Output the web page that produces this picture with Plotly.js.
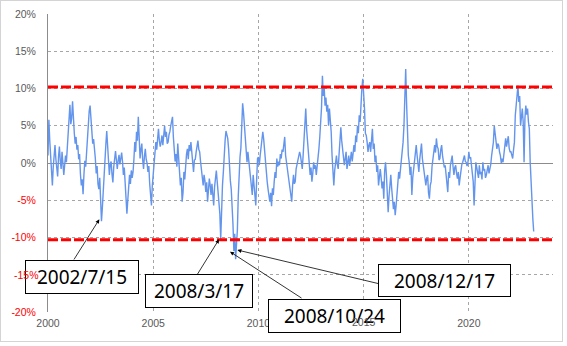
<!DOCTYPE html>
<html>
<head>
<meta charset="utf-8">
<script src="https://cdn.plot.ly/plotly-3.0.1.min.js"></script>
<style>
  html, body { margin: 0; padding: 0; background: #ffffff; }
  #wrap { position: relative; width: 567px; height: 346px; }
  #chart { position: absolute; left: 0; top: 0; width: 567px; height: 346px; }
  #frame { position: absolute; left: 0; top: 0; width: 561px; height: 340px;
           border: 1px solid #d4d4d4; pointer-events: none; }
</style>
</head>
<body>
<div id="wrap"><div id="chart"></div><div id="frame"></div></div>
<script>
// Semi-monthly readings (%) per year
const y2000 = [1.0, 5.8, 3.0, 1.0, -1.5, -3.0, -0.5, 1.2, 2.4, 0.5, -1.2, -1.8, 0.8, 2.2, 0.3, -0.8, 1.5, 0.4, -1.6, -0.3, 1.0, 0.1, 2.2, 4.0];
const y2001 = [6.5, 7.8, 5.2, 6.0, 8.3, 5.5, 4.0, 2.6, 3.5, 1.8, 2.4, 0.5, 1.2, -1.5, -3.0, -2.2, -4.2, -1.5, 0.3, -0.5, 1.5, 3.8, 5.2, 7.0];
const y2002 = [7.7, 6.0, 4.5, 2.6, 3.2, 1.0, 0.6, -1.4, -0.4, -2.8, -3.5, -2.0, -5.5, -7.8, -6.0, -3.4, -1.0, 0.8, 2.5, 4.3, 2.6, 0.5, -1.6, -0.2];
const y2003 = [0.2, -1.5, -2.6, -0.5, 1.0, 1.6, 0.4, -0.8, 0.3, 1.1, -0.2, 0.6, 1.4, 0.2, -1.6, -0.6, -3.0, -4.4, -6.8, -5.0, -3.2, -1.6, -2.8, -1.0];
const y2004 = [-2.0, -1.2, 0.5, 2.8, 1.5, 4.2, 3.0, 6.2, 3.5, 0.6, 1.8, 2.6, 0.4, -0.8, 0.9, 1.9, 0.5, 0.0, -1.2, -0.4, -2.8, -4.8, -5.7, -3.0];
const y2005 = [-1.5, 0.5, 1.0, 2.8, 1.8, 3.6, 4.6, 3.0, 2.2, 2.8, 3.7, 2.4, 4.0, 5.0, 3.5, 4.2, 2.6, 2.8, 3.8, 4.2, 5.0, 5.5, 6.2, 3.5];
const y2006 = [2.0, 0.2, 1.2, -0.5, 2.6, 0.8, -1.2, -3.0, -2.0, -5.2, -4.0, -1.2, -2.2, 0.6, 1.2, 1.9, 0.5, 2.4, 1.6, 2.8, 1.0, 0.1, -1.2, 0.4];
const y2007 = [0.5, 1.5, 2.6, 3.0, 1.8, 1.5, 0.2, -0.8, -2.0, -3.0, -1.6, -2.4, -3.9, -2.6, -5.2, -3.5, -2.1, -3.0, -4.3, -2.8, -5.0, -5.7, -3.2, -1.8];
const y2008 = [-1.0, -2.5, -3.9, -5.0, -6.8, -10.2, -5.5, -3.0, -1.2, 1.5, 3.0, 4.3, 3.6, 3.3, 1.9, -0.8, -2.4, -3.5, -5.2, -8.3, -11.8, -9.5, -12.9, -10.8];
const y2009 = [-9.0, -4.5, -1.0, 0.8, 2.0, 5.0, 8.0, 6.8, 5.0, 3.0, 1.0, 0.1, 1.5, 0.4, -1.2, -2.5, -3.0, -4.3, -1.6, -3.0, -4.8, -5.7, -2.2, 0.6];
const y2010 = [0.8, -0.3, 1.0, 2.2, 2.8, 4.2, 3.2, 1.5, 0.1, -1.5, -2.5, -3.5, -4.3, -5.2, -4.0, -5.8, -3.4, -4.3, -2.5, -1.2, -2.0, 0.6, -0.5, 0.2];
const y2011 = [-0.3, 1.2, 0.6, 1.8, 1.5, 2.4, 3.5, 1.0, 0.1, -0.8, -1.6, -2.4, -3.0, -4.2, -5.2, -3.0, -1.6, -2.8, -2.5, -0.8, -0.3, 0.6, 1.0, 1.5];
const y2012 = [1.0, -0.2, -0.8, 1.0, 2.8, 5.0, 7.3, 4.5, 2.8, 0.8, -0.3, -1.6, -0.6, -2.5, -1.4, 0.1, -0.8, -0.3, -1.6, -0.5, 0.1, 1.9, 3.5, 5.2];
const y2013 = [7.5, 11.7, 9.0, 10.2, 7.7, 8.8, 6.9, 7.8, 5.0, 7.3, 6.0, 4.2, 1.0, -1.6, -3.0, -1.0, 0.1, 1.0, -0.2, -0.8, 1.2, 2.8, 4.8, 3.0];
const y2014 = [2.0, 1.0, -0.3, 0.6, 1.5, -0.8, 0.2, 1.0, -0.4, 0.6, 1.5, 0.2, 1.0, 2.4, 1.5, 3.7, 2.8, 5.0, 4.0, 6.4, 5.5, 8.6, 10.0, 11.3];
const y2015 = [9.5, 7.3, 4.0, 3.7, 2.8, 1.5, 2.4, 2.8, 1.5, 3.5, 4.6, 1.9, 2.6, 0.1, 1.0, -1.2, -0.3, -3.0, -1.6, -0.8, -2.0, -3.4, -2.5, -4.8];
const y2016 = [-1.0, 0.1, -1.6, -4.0, -6.6, -4.4, -2.8, -1.6, -3.4, -4.8, -6.2, -5.2, -7.0, -5.8, -4.3, -2.5, -1.2, -2.1, -0.8, 0.1, 1.2, 2.8, 5.0, 9.0];
const y2017 = [12.6, 8.0, 3.7, 1.0, 0.1, -1.6, -0.5, -4.3, -2.0, -0.8, 0.6, 1.5, 2.4, 1.0, 0.1, -1.2, 0.5, 1.9, 2.6, 0.6, -0.4, -1.2, -2.0, -3.0];
const y2018 = [-2.0, -1.6, -4.0, -4.8, -3.0, -2.5, -0.5, 0.6, 1.5, 2.4, 1.4, 3.3, 2.2, 1.9, 0.4, 0.6, 1.8, 2.4, 1.0, 0.1, -0.6, -0.3, -1.6, -2.5];
const y2019 = [-3.9, -1.2, -2.0, -0.3, 0.4, 1.0, -0.5, -1.6, -0.6, -0.3, -1.4, -2.1, -1.2, -3.0, -2.0, -0.8, -0.2, 0.1, 0.6, 1.0, 0.2, 0.1, -0.4, 0.1];
const y2020 = [1.5, 0.6, 0.8, -0.5, -0.8, -2.5, -5.7, -1.6, 0.1, -0.6, -1.2, -2.0, -0.3, -1.5, -1.2, -2.2, 0.1, -1.0, -0.8, -2.0, -1.6, -0.5, -0.3, -1.4];
const y2021 = [-0.8, -0.2, 1.0, 2.0, 2.8, 5.0, 4.0, 3.3, 1.9, 2.6, 2.4, 1.5, 1.0, 0.0, 0.6, 0.1, 1.2, 1.9, 3.3, 2.2, 2.8, 3.6, 2.0, 1.5];
const y2022 = [1.5, 1.0, 0.6, 1.8, 2.8, 6.4, 8.0, 9.0, 10.4, 8.2, 9.0, 5.0, 6.5, 7.3, 5.5, 0.1, 6.0, 7.7, 6.5, 7.3, 5.5, 4.6, 0.1, -3.4];
const y2023 = [-5.2, -7.5, -9.2];

const startYears = [2000, 2001, 2002, 2003, 2004, 2005, 2006, 2007, 2008, 2009, 2010, 2011,
                    2012, 2013, 2014, 2015, 2016, 2017, 2018, 2019, 2020, 2021, 2022, 2023];
const yearly = [y2000, y2001, y2002, y2003, y2004, y2005, y2006, y2007, y2008, y2009, y2010, y2011,
                y2012, y2013, y2014, y2015, y2016, y2017, y2018, y2019, y2020, y2021, y2022, y2023];

const upperBand = 10.2;
const lowerBand = -10.3;

const xTicks = [2000, 2005, 2010, 2015, 2020];
const yTicks = [-20, -15, -10, -5, 0, 5, 10, 15, 20];

const labels = ['2002/7/15', '2008/3/17', '2008/10/24', '2008/12/17'];
// arrow heads (dates, %) and tails (at the callout boxes)
const headX = [2002.44, 2008.13, 2008.65, 2009.0];
const headY = [-7.56, -10.24, -11.91, -11.68];
const tailX = [2001.19, 2006.99, 2012.12, 2015.78];
const tailY = [-13.15, -15.44, -18.26, -16.24];
// callout box centres, in paper fractions
const boxX = [0.0673, 0.299, 0.5673, 0.7851];
const boxY = [0.1158, 0.0705, -0.0134, 0.1057];
const boxW = [112, 106, 131, 131];
const boxH = [32, 32, 32, 31];

const xs = [], ys = [];
yearly.forEach((arr, k) => {
  arr.forEach((v, i) => { xs.push(startYears[k] + i / 24); ys.push(v); });
});

const red = '#ff0000';
const gray = '#595959';
const yText = yTicks.map(v => {
  if (v === -15) return '';
  return v < 0 ? '<span style="color:' + red + '">' + v + '%</span>' : v + '%';
});
const xText = xTicks.map(v => v === 2015 ? '' : String(v));

const annotations = [];
labels.forEach((t, k) => {
  annotations.push({
    x: headX[k], y: headY[k], xref: 'x', yref: 'y',
    ax: tailX[k], ay: tailY[k], axref: 'x', ayref: 'y',
    text: '', showarrow: true, arrowhead: 2, arrowsize: 1, arrowwidth: 0.8,
    arrowcolor: '#000000', standoff: 0, startstandoff: 0
  });
});
labels.forEach((t, k) => {
  annotations.push({
    x: boxX[k], y: boxY[k], xref: 'paper', yref: 'paper', xanchor: 'center', yanchor: 'middle',
    text: t, showarrow: false, width: boxW[k], height: boxH[k],
    bgcolor: '#ffffff', bordercolor: '#000000', borderwidth: 1, borderpad: 0,
    font: {family: 'Noto Sans, sans-serif', size: 19, color: '#000000'}
  });
});
// axis labels that show through the callout boxes in the reference
annotations.push({
  x: -0.018, y: -15, xref: 'paper', yref: 'y', xanchor: 'right', yanchor: 'middle',
  text: '-15%', showarrow: false, borderpad: 0, borderwidth: 0,
  font: {family: 'Liberation Sans, sans-serif', size: 10.5, color: red}
});
annotations.push({
  x: 2015, y: -0.034, xref: 'x', yref: 'paper', xanchor: 'center', yanchor: 'middle',
  text: '2015', showarrow: false, borderpad: 0, borderwidth: 0,
  font: {family: 'Liberation Sans, sans-serif', size: 10.5, color: gray}
});

const trace = {
  x: xs, y: ys, type: 'scatter', mode: 'lines',
  line: {color: '#6495ed', width: 1.4}, hoverinfo: 'skip'
};

const layout = {
  width: 567, height: 346,
  margin: {l: 48, r: 14, t: 14, b: 34, pad: 0},
  paper_bgcolor: '#ffffff', plot_bgcolor: '#ffffff',
  showlegend: false,
  xaxis: {
    range: [2000, 2024], tickmode: 'array', tickvals: xTicks, ticktext: xText,
    showgrid: true, gridcolor: '#a6a6a6', griddash: 'dot', gridwidth: 1,
    zeroline: false, showline: false, ticks: '', ticklabelstandoff: 3,
    tickfont: {family: 'Liberation Sans, sans-serif', size: 10.5, color: gray}
  },
  yaxis: {
    range: [-20, 20], tickmode: 'array', tickvals: yTicks, ticktext: yText,
    showgrid: true, gridcolor: '#a6a6a6', griddash: 'dot', gridwidth: 1,
    zeroline: true, zerolinecolor: '#8c8c8c', zerolinewidth: 1,
    showline: true, linecolor: '#8c8c8c', linewidth: 1,
    ticks: '', ticklabelstandoff: 9,
    tickfont: {family: 'Liberation Sans, sans-serif', size: 10.5, color: gray}
  },
  shapes: [
    {type: 'line', xref: 'x', yref: 'y', x0: 2000, x1: 2024, y0: upperBand, y1: upperBand,
     line: {color: red, width: 3, dash: '10px,3px'}},
    {type: 'line', xref: 'x', yref: 'y', x0: 2000, x1: 2024, y0: lowerBand, y1: lowerBand,
     line: {color: red, width: 3, dash: '10px,3px'}}
  ],
  annotations: annotations
};

Plotly.newPlot('chart', [trace], layout, {displayModeBar: false, staticPlot: true});
</script>
</body>
</html>
